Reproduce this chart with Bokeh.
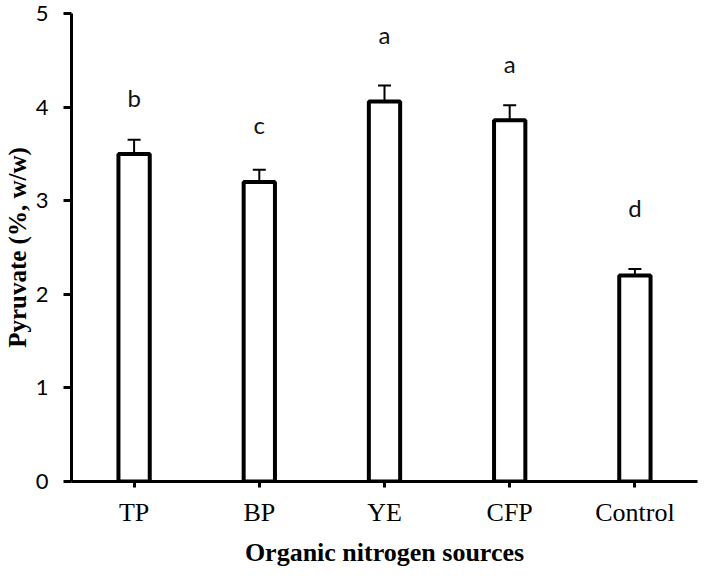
from bokeh.plotting import figure
from bokeh.models import ColumnDataSource, FactorRange, Range1d, Whisker, TeeHead, FixedTicker
from bokeh.core.properties import value
from bokeh.embed import file_html
from bokeh.resources import INLINE

categories = ["TP", "BP", "YE", "CFP", "Control"]
pyruvate = [3.50, 3.20, 4.06, 3.86, 2.20]
errors = [0.15, 0.13, 0.17, 0.16, 0.07]
letters = ["b", "c", "a", "a", "d"]
letter_y = [4.10, 3.81, 4.78, 4.47, 2.93]
y_ticks = [0, 1, 2, 3, 4, 5]

upper = [v + e for v, e in zip(pyruvate, errors)]
lower = [v - e for v, e in zip(pyruvate, errors)]

src = ColumnDataSource(dict(x=categories, top=pyruvate, upper=upper, lower=lower))
lsrc = ColumnDataSource(dict(x=categories, y=letter_y, t=letters))

p = figure(x_range=FactorRange(*categories), y_range=Range1d(0, 5),
           width=698, height=569, output_backend="svg", toolbar_location=None,
           min_border_left=66, min_border_right=1, min_border_top=13, min_border_bottom=88)
p.outline_line_color = None
p.xgrid.grid_line_color = None
p.ygrid.grid_line_color = None

p.vbar(x="x", top="top", width=0.25, bottom=0, source=src,
       fill_color="white", line_color="black", line_width=4)

w = Whisker(source=src, base="x", upper="upper", lower="lower",
            line_color="black", line_width=2,
            upper_head=TeeHead(size=13, line_color="black", line_width=2),
            lower_head=TeeHead(size=13, line_color="black", line_width=2))
p.add_layout(w)

p.text(x="x", y="y", text="t", source=lsrc, text_align="center", text_baseline="middle",
       text_font=value("Lato"), text_font_size="24px", text_color="#111111")

# axes
p.yaxis.ticker = FixedTicker(ticks=y_ticks)
p.yaxis.minor_tick_line_color = None
p.yaxis.major_tick_in = 0
p.yaxis.major_tick_out = 8
p.yaxis.major_label_standoff = 15
p.yaxis.major_label_text_font = "Lato"
p.yaxis.major_label_text_font_size = "22px"
p.yaxis.major_label_text_color = "black"
p.yaxis.axis_label = "Pyruvate (%, w/w)"
p.yaxis.axis_label_text_font = "Liberation Serif"
p.yaxis.axis_label_text_font_style = "bold"
p.yaxis.axis_label_text_font_size = "25px"
p.yaxis.axis_label_text_color = "black"
p.yaxis.axis_label_standoff = 2

p.xaxis.major_tick_in = 0
p.xaxis.major_tick_out = 6
p.xaxis.major_label_standoff = 10
p.xaxis.major_label_text_font = "Liberation Serif"
p.xaxis.major_label_text_font_size = "26px"
p.xaxis.major_label_text_color = "black"
p.xaxis.axis_label = "Organic nitrogen sources"
p.xaxis.axis_label_text_font = "Liberation Serif"
p.xaxis.axis_label_text_font_style = "bold"
p.xaxis.axis_label_text_font_size = "26px"
p.xaxis.axis_label_text_color = "black"
p.xaxis.axis_label_standoff = 8

for ax in (p.xaxis, p.yaxis):
    ax.axis_line_width = 3
    ax.axis_line_color = "black"
    ax.major_tick_line_width = 3
    ax.major_tick_line_color = "black"

open("out.html", "w").write(file_html(p, INLINE))
